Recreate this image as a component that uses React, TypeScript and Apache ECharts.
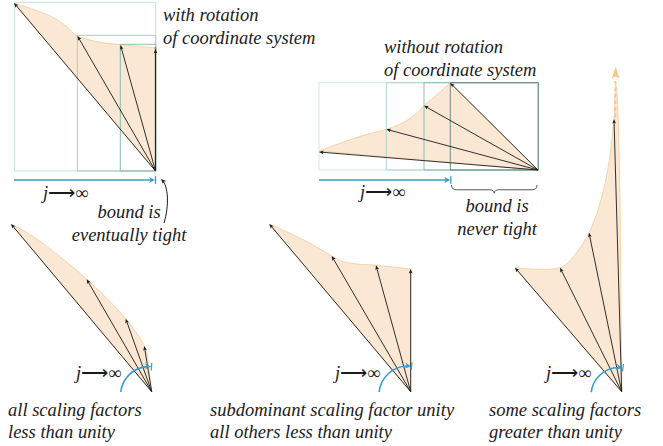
import { useEffect, useRef } from 'react';
import * as echarts from 'echarts';

// ---------- data ----------
// common start point of the vectors in each panel (A..E)
const panelOrigins = [
  [155.5, 171],
  [538, 170],
  [151.7, 391.7],
  [410.7, 391.7],
  [621.7, 391.7],
];
// vector end points per panel
const tipsA = [[14, 3], [77.5, 36], [120.5, 45], [155.5, 49]];
const tipsB = [[319, 152], [386.3, 129.3], [424, 105.7], [450.3, 83]];
const tipsC = [[11, 224], [86.7, 279.3], [125.7, 318.7], [144.3, 346]];
const tipsD = [[269.3, 224], [331.7, 256], [376, 265.3], [410.7, 269]];
const tipsE = [[515, 267.7], [560, 267.7], [589, 232.7], [614, 119]];
const panelTips = [tipsA, tipsB, tipsC, tipsD, tipsE];

// upper envelope of the shaded region per panel
const envelopeA = [[14, 3], [48, 15], [66, 26], [77.5, 36], [100, 42.3], [120.5, 44.7], [155.5, 47.7]];
const envelopeB = [[319, 151], [340, 143.3], [363, 135.5], [386.3, 129.3], [403, 122.7], [416.7, 113.3], [424, 105.7], [437, 94.5], [450.3, 83]];
const envelopeC = [[11, 224], [33.3, 236.7], [60, 256.7], [86.7, 279.3], [106.7, 298.3], [125.7, 318.7], [140, 338.3], [144.3, 346], [146.7, 351.7]];
const envelopeD = [[269.3, 224], [290, 233.3], [310, 243.3], [331.7, 256], [343, 261.7], [360, 264.3], [376, 265.3], [410.7, 269]];
const envelopeE = [[515, 267.7], [536.7, 269.3], [560, 267.7], [573.3, 256.7], [589, 232.7], [600, 203.3], [608.3, 166.7], [614, 119], [615.7, 85], [618, 112], [620, 200]];
const envelopes = [envelopeA, envelopeB, envelopeC, envelopeD, envelopeE];

// bounding boxes [x0, y0, x1, y1]
const boxesA = [[14.3, 2.3, 155.7, 171], [77.3, 35.3, 155.7, 171], [120.3, 44.3, 155.7, 171], [155.3, 47.5, 155.7, 171]];
const boxesB = [[319, 82.7, 538.3, 170], [386.3, 82.7, 538.3, 170], [424, 82.7, 538.3, 170], [450.3, 82.7, 538.3, 170]];
const boxColorsA = ['#bfe3d9', '#aecbc1', '#8dbcab', '#55786a'];
const boxColorsB = ['#cdeae3', '#afd6ca', '#92bfb1', '#6f8c81'];

// "j -> infinity" sweep markers: straight [x0, y, x1], arcs [cx, cy, r, startDeg, endDeg]
const sweepLines = [[14, 180, 155], [319, 180, 450.3]];
const sweepArcs = [[149, 395, 28.4, 186, 274], [408, 395, 29, 186, 276], [619, 395.5, 28, 187, 277]];

// brace under panel B [x0, x1, yTop, yTip], pointer arrow (panel A), growth arrow (panel E)
const braceSpan = [451.5, 537, 185, 193.3];
const pointerCurve = [[164, 223], [169.5, 205], [168, 186], [161, 179]];
const growthArrow = [[615.2, 117], [615.7, 66.7]];

// texts
const titleA = ['with rotation', 'of coordinate system'];
const titleB = ['without rotation', 'of coordinate system'];
const noteA = ['bound is', 'eventually tight'];
const noteB = ['bound is', 'never tight'];
const captionC = ['all scaling factors', 'less than unity'];
const captionD = ['subdominant scaling factor unity', 'all others less than unity'];
const captionE = ['some scaling factors', 'greater than unity'];

// ---------- tables built from the data ----------
const vectorRows = panelTips.flatMap((tips, i) => tips.map((t) => [panelOrigins[i][0], panelOrigins[i][1], t[0], t[1]]));
const fillRows = panelOrigins.map((o, i) => [o[0], o[1], i]);
const boxRows = [
  ...boxesA.map((b, k) => [...b, k, 0]),
  ...boxesB.map((b, k) => [...b, k, 1]),
];

const INK = '#1b1b1b';
const BLUE = '#3a9bc9';
const FILL = '#fbe8d4';
const FILL_EDGE = '#f6d3a9';
const ORANGE = '#f6c48d';

function catmull(pts: number[][]) {
  let d = '';
  for (let i = 0; i < pts.length - 1; i++) {
    const p0 = pts[i - 1] || pts[i];
    const p1 = pts[i];
    const p2 = pts[i + 1];
    const p3 = pts[i + 2] || pts[i + 1];
    const c1 = [p1[0] + (p2[0] - p0[0]) / 6, p1[1] + (p2[1] - p0[1]) / 6];
    const c2 = [p2[0] - (p3[0] - p1[0]) / 6, p2[1] - (p3[1] - p1[1]) / 6];
    d += ` C ${c1[0]} ${c1[1]} ${c2[0]} ${c2[1]} ${p2[0]} ${p2[1]}`;
  }
  return d;
}

function head(tip: number[], dir: number[], len: number, half: number, notch = 0.75) {
  const px = -dir[1], py = dir[0];
  const bx = tip[0] - dir[0] * len, by = tip[1] - dir[1] * len;
  return [
    [tip[0], tip[1]],
    [bx + px * half, by + py * half],
    [tip[0] - dir[0] * len * notch, tip[1] - dir[1] * len * notch],
    [bx - px * half, by - py * half],
  ];
}

function unit(a: number[], b: number[]) {
  const dx = b[0] - a[0], dy = b[1] - a[1];
  const l = Math.hypot(dx, dy) || 1;
  return [dx / l, dy / l];
}

const serif = 'Liberation Serif';
const textStyle = (text: string, align = 'left') => ({
  text,
  fontFamily: serif,
  fontStyle: 'italic',
  fontSize: 18.5,
  fill: INK,
  align,
  verticalAlign: 'middle',
});

function textEl(text: string, x: number, y: number, align = 'left') {
  return { type: 'text', x, y, silent: true, style: textStyle(text, align) };
}

function jEl(x: number, y: number) {
  return {
    type: 'text',
    x,
    y,
    silent: true,
    style: {
      text: '{j|j}{r|⟶∞}',
      align: 'left',
      verticalAlign: 'middle',
      rich: {
        j: { fontFamily: serif, fontStyle: 'italic', fontSize: 18.5, fill: INK },
        r: { fontFamily: serif, fontSize: 18.5, fill: INK },
      },
    },
  };
}

const option: any = {
  animation: false,
  textStyle: { fontFamily: serif },
  grid: { left: 0, right: 0, top: 0, bottom: 0 },
  xAxis: { type: 'value', min: 0, max: 663, show: false },
  yAxis: { type: 'value', min: 0, max: 446, inverse: true, show: false },
  series: [
    {
      type: 'custom',
      name: 'shaded region',
      z: 1,
      silent: true,
      clip: false,
      data: fillRows,
      renderItem: (params: any, api: any) => {
        const o = api.coord([api.value(0), api.value(1)]);
        const env = envelopes[api.value(2)].map((p) => api.coord(p));
        const d = `M ${o[0]} ${o[1]} L ${env[0][0]} ${env[0][1]}` + catmull(env) + ` L ${o[0]} ${o[1]} Z`;
        return {
          type: 'path',
          shape: { pathData: d },
          style: { fill: FILL, stroke: FILL_EDGE, lineWidth: 1 },
        };
      },
    },
    {
      type: 'custom',
      name: 'boxes',
      z: 2,
      silent: true,
      clip: false,
      data: boxRows,
      renderItem: (params: any, api: any) => {
        const p0 = api.coord([api.value(0), api.value(1)]);
        const p1 = api.coord([api.value(2), api.value(3)]);
        const colors = api.value(5) === 0 ? boxColorsA : boxColorsB;
        return {
          type: 'rect',
          shape: { x: p0[0], y: p0[1], width: p1[0] - p0[0], height: p1[1] - p0[1] },
          style: { fill: 'none', stroke: colors[api.value(4)], lineWidth: 1 },
        };
      },
    },
    {
      type: 'custom',
      name: 'growth arrow',
      z: 3,
      silent: true,
      clip: false,
      data: [[...growthArrow[0], ...growthArrow[1]]],
      renderItem: (params: any, api: any) => {
        const a = api.coord([api.value(0), api.value(1)]);
        const b = api.coord([api.value(2), api.value(3)]);
        const dir = unit(a, b);
        const L = 12;
        return {
          type: 'group',
          children: [
            {
              type: 'line',
              shape: { x1: a[0], y1: a[1], x2: b[0] - dir[0] * L, y2: b[1] - dir[1] * L },
              style: { stroke: ORANGE, lineWidth: 2, lineDash: [3.5, 3] },
            },
            {
              type: 'polygon',
              shape: { points: head(b, dir, L, 4, 0.8) },
              style: { fill: ORANGE },
            },
          ],
        };
      },
    },
    {
      type: 'custom',
      name: 'vectors',
      z: 4,
      silent: true,
      clip: false,
      data: vectorRows,
      renderItem: (params: any, api: any) => {
        const o = api.coord([api.value(0), api.value(1)]);
        const t = api.coord([api.value(2), api.value(3)]);
        const dir = unit(o, t);
        return {
          type: 'group',
          children: [
            {
              type: 'line',
              shape: { x1: o[0], y1: o[1], x2: t[0] - dir[0] * 3, y2: t[1] - dir[1] * 3 },
              style: { stroke: INK, lineWidth: 0.9 },
            },
            {
              type: 'polygon',
              shape: { points: head(t, dir, 4.6, 1.9) },
              style: { fill: INK },
            },
          ],
        };
      },
    },
    {
      type: 'custom',
      name: 'sweep lines',
      z: 4,
      silent: true,
      clip: false,
      data: sweepLines,
      renderItem: (params: any, api: any) => {
        const a = api.coord([api.value(0), api.value(1)]);
        const b = api.coord([api.value(2), api.value(1)]);
        return {
          type: 'group',
          children: [
            { type: 'line', shape: { x1: a[0], y1: a[1], x2: b[0] - 4, y2: b[1] }, style: { stroke: BLUE, lineWidth: 1.6 } },
            { type: 'polygon', shape: { points: head(b, [1, 0], 6, 3, 0.7) }, style: { fill: BLUE } },
            { type: 'line', shape: { x1: b[0] + 0.5, y1: b[1] - 3.8, x2: b[0] + 0.5, y2: b[1] + 3.8 }, style: { stroke: BLUE, lineWidth: 1.3 } },
          ],
        };
      },
    },
    {
      type: 'custom',
      name: 'sweep arcs',
      z: 4,
      silent: true,
      clip: false,
      data: sweepArcs,
      renderItem: (params: any, api: any) => {
        const c = api.coord([api.value(0), api.value(1)]);
        const r = api.size([api.value(2), 0])[0];
        const a0 = (api.value(3) * Math.PI) / 180;
        const a1 = (api.value(4) * Math.PI) / 180;
        const end = [c[0] + r * Math.cos(a1), c[1] + r * Math.sin(a1)];
        const dir = [-Math.sin(a1), Math.cos(a1)];
        const rad = [Math.cos(a1), Math.sin(a1)];
        const back = 4 / r;
        return {
          type: 'group',
          children: [
            {
              type: 'arc',
              shape: { cx: c[0], cy: c[1], r, startAngle: a0, endAngle: a1 - back, clockwise: true },
              style: { stroke: BLUE, lineWidth: 1.6, fill: 'none' },
            },
            { type: 'polygon', shape: { points: head(end, dir, 6, 3, 0.7) }, style: { fill: BLUE } },
            {
              type: 'line',
              shape: {
                x1: end[0] + dir[0] * 0.5 - rad[0] * 3.8, y1: end[1] + dir[1] * 0.5 - rad[1] * 3.8,
                x2: end[0] + dir[0] * 0.5 + rad[0] * 3.8, y2: end[1] + dir[1] * 0.5 + rad[1] * 3.8,
              },
              style: { stroke: BLUE, lineWidth: 1.3 },
            },
          ],
        };
      },
    },
    {
      type: 'custom',
      name: 'brace',
      z: 4,
      silent: true,
      clip: false,
      data: [braceSpan],
      renderItem: (params: any, api: any) => {
        const l = api.coord([api.value(0), api.value(2)]);
        const r = api.coord([api.value(1), api.value(2)]);
        const tipY = api.coord([0, api.value(3)])[1];
        const m = (l[0] + r[0]) / 2;
        const ym = (l[1] + tipY) / 2 + 0.6;
        const d = `M ${l[0]} ${l[1]} Q ${l[0]} ${ym} ${l[0] + 5} ${ym} L ${m - 5} ${ym} Q ${m} ${ym} ${m} ${tipY} Q ${m} ${ym} ${m + 5} ${ym} L ${r[0] - 5} ${ym} Q ${r[0]} ${ym} ${r[0]} ${r[1]}`;
        return { type: 'path', shape: { pathData: d }, style: { fill: 'none', stroke: '#444', lineWidth: 0.9 } };
      },
    },
    {
      type: 'custom',
      name: 'pointer',
      z: 4,
      silent: true,
      clip: false,
      data: [pointerCurve.flat()],
      renderItem: (params: any, api: any) => {
        const p = [0, 1, 2, 3].map((k) => api.coord([api.value(2 * k), api.value(2 * k + 1)]));
        const dir = unit(p[2], p[3]);
        return {
          type: 'group',
          children: [
            {
              type: 'bezierCurve',
              shape: { x1: p[0][0], y1: p[0][1], cpx1: p[1][0], cpy1: p[1][1], cpx2: p[2][0], cpy2: p[2][1], x2: p[3][0] - dir[0] * 2, y2: p[3][1] - dir[1] * 2 },
              style: { stroke: INK, lineWidth: 1, fill: 'none' },
            },
            { type: 'polygon', shape: { points: head(p[3], dir, 5, 2.2) }, style: { fill: INK } },
          ],
        };
      },
    },
  ],
  graphic: [
    textEl(titleA[0], 163, 15),
    textEl(titleA[1], 163, 38),
    textEl(titleB[0], 384, 47),
    textEl(titleB[1], 384, 69.5),
    textEl(noteA[0], 129, 212, 'center'),
    textEl(noteA[1], 129, 235, 'center'),
    textEl(noteB[0], 497, 206, 'center'),
    textEl(noteB[1], 497, 228.5, 'center'),
    textEl(captionC[0], 8, 410),
    textEl(captionC[1], 8, 432),
    textEl(captionD[0], 210, 410),
    textEl(captionD[1], 210, 432),
    textEl(captionE[0], 489, 410),
    textEl(captionE[1], 489, 432),
    jEl(43, 193),
    jEl(360, 192),
    jEl(76, 373),
    jEl(335, 373),
    jEl(546, 373),
  ],
};

export default function App() {
  const ref = useRef<HTMLDivElement>(null);
  useEffect(() => {
    const chart = echarts.init(ref.current!, null, { renderer: 'svg' });
    chart.setOption(option);
    return () => chart.dispose();
  }, []);
  return (
    <div
      ref={ref}
      style={{ position: 'absolute', left: 0, top: 0, width: 663, height: 446, background: '#fff' }}
    />
  );
}
